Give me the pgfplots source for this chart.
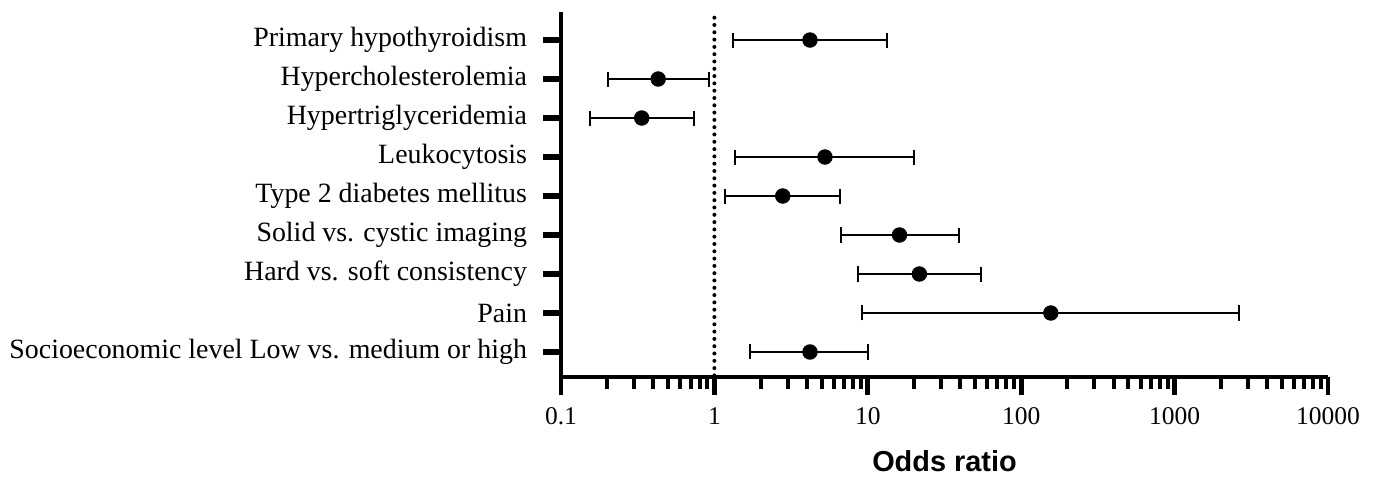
\documentclass[border=0pt]{standalone}
\usepackage{fontspec}
\setmainfont{Liberation Serif}
\newfontfamily\labelsans{Liberation Sans}
\usepackage{pgfplots}
\usepackage{pgfplotstable}
\pgfplotsset{compat=1.18}

\pgfplotstableread{
y   or     em      ep
9   4.2    2.88    9.1
8   0.43   0.228   0.49
7   0.336  0.181   0.40
6   5.26   3.90    14.84
5   2.79   1.61    3.80
4   16.1   9.44    23.4
3   21.7   13.03   33.0
2   156    146.8   2484
1   4.2    2.49    5.8
}\ortable

\begin{document}
\begin{tikzpicture}
\begin{axis}[
  scale only axis,
  width=383.5bp, height=182.5bp,
  xmode=log,
  xmin=0.1, xmax=10000,
  ymin=0.359, ymax=9.718,
  axis x line*=bottom, axis y line*=left,
  axis line style={line width=2.35bp, black},
  tick align=outside,
  major tick length=9bp,
  minor tick length=6bp,
  major x tick style={line width=2.4bp, black},
  minor x tick style={line width=2bp, black},
  y tick style={line width=3bp, black},
  xtick={0.1,1,10,100,1000,10000},
  xticklabels={0.1,1,10,100,1000,10000},
  ytick={1,2,3,4,5,6,7,8,9},
  yticklabels={Socioeconomic level Low vs. medium or high, Pain, Hard vs. soft consistency, Solid vs. cystic imaging, Type 2 diabetes mellitus, Leukocytosis, Hypertriglyceridemia, Hypercholesterolemia, Primary hypothyroidism},
  ytick style={line width=3bp, black},
  yticklabel style={font=\fontsize{14}{16}\selectfont, xshift=-4.5bp},
  xticklabel style={font=\fontsize{12.8}{15}\selectfont, yshift=-3bp},
  xlabel={\labelsans\bfseries Odds ratio},
  xlabel style={font=\fontsize{14.5}{16}\selectfont, at={(axis description cs:0.5,0)}, anchor=base, yshift=-47.5bp},
  clip=false,
]
\addplot[black, line width=2bp, line cap=round, dash pattern=on 0bp off 3.65bp] coordinates {(1,0.4) (1,9.7)};
\addplot[black, only marks, mark=*, mark size=3.65bp,
  error bars/.cd, x dir=both, x explicit, error mark=|,
  error bar style={line width=1bp, black},
  error mark options={line width=1bp, mark size=3.75bp, black}]
  table[x=or, y=y, x error minus=em, x error plus=ep] {\ortable};
\end{axis}
\path (current axis.south west) ++(-280.5bp,-50.5bp) coordinate (bl);
\path (current axis.north east) ++(23bp,6bp) coordinate (tr);
\path (bl) rectangle (tr);
\end{tikzpicture}
\end{document}
